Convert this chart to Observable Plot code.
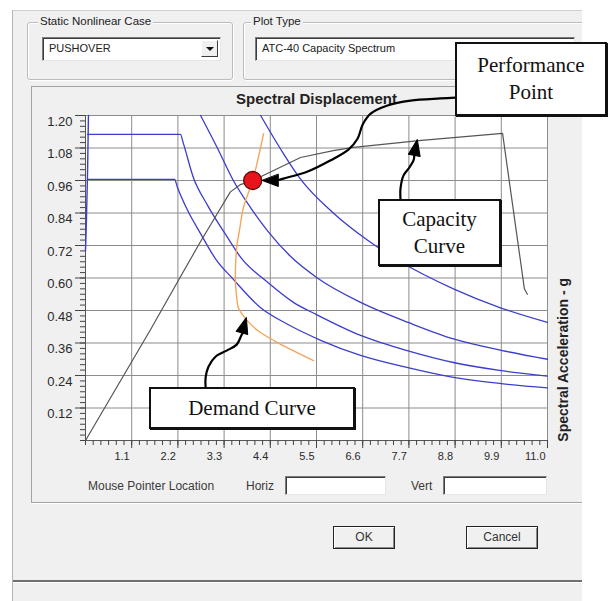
<!DOCTYPE html>
<html>
<head>
<meta charset="utf-8">
<script src="https://cdn.jsdelivr.net/npm/d3@7"></script>
<script src="https://cdn.jsdelivr.net/npm/@observablehq/plot@0.6"></script>
<style>
  html, body { margin: 0; padding: 0; background: #fff; }
  #page { position: relative; width: 614px; height: 601px; overflow: hidden; background: #fff;
          font-family: "Liberation Sans", Arial, sans-serif; font-size: 11px; color: #222; }
  #chrome { position: absolute; left: 0; top: 0; width: 582px; height: 601px; overflow: hidden; }
  .abs { position: absolute; box-sizing: border-box; }
  #dialog { left: 12px; top: 10px; width: 572px; height: 595px; background: #f0f0f0;
            border-left: 1px solid #b4b4b4; border-top: 1px solid #cfcfcf; }
  .group { border: 1px solid #bcbcbc; border-radius: 3px; box-shadow: inset 1px 1px 0 #fff, 1px 1px 0 #fff; }
  .glabel { background: #f0f0f0; padding: 0 2px; line-height: 13px; white-space: nowrap; font-size: 11.5px; }
  .combo { background: #fff; border: 1px solid; border-color: #7c7c7c #e6e6e6 #e6e6e6 #7c7c7c;
           box-shadow: inset 1px 1px 0 #3c3c3c; padding-left: 6px; line-height: 21px; white-space: nowrap; }
  .drop { position: absolute; right: 2px; top: 2px; width: 17px; height: 17px; background: #f0f0f0;
          border: 1px solid; border-color: #fff #3c3c3c #3c3c3c #fff; box-sizing: border-box; }
  .drop::after { content: ""; position: absolute; left: 4px; top: 6px; border-left: 4px solid transparent;
                 border-right: 4px solid transparent; border-top: 4px solid #111; }
  .panel { border-top: 1px solid #a3a3a3; border-left: 1px solid #a3a3a3;
           border-bottom: 1px solid #a3a3a3; box-shadow: 0 1px 0 #fff; }
  .field { background: #fff; border: 1px solid; border-color: #7c7c7c #e6e6e6 #e6e6e6 #7c7c7c;
           box-shadow: inset 1px 1px 0 #3c3c3c; }
  .txt { white-space: nowrap; line-height: 14px; color: #3a3a3a; font-size: 12px; }
  .btn { border: 1px solid #222; background: #f0f0f0; text-align: center; line-height: 21px; font-size: 12px;
         box-shadow: inset 1px 1px 0 #fff, inset -1px -1px 0 #8a8a8a; color: #333; }
  .note { background: #fff; border: 2px solid #111; box-shadow: 1px 1px 0 #111;
          font-family: "Liberation Serif", "Times New Roman", serif; font-size: 21px; color: #111;
          text-align: center; white-space: nowrap; }
  #plotHolder { position: absolute; left: 32px; top: 86px; }
  #plotHolder svg { overflow: visible; }
</style>
</head>
<body>
<div id="page">
  <div id="chrome">
    <div class="abs" id="dialog"></div>

    <div class="abs group" style="left:27px;top:22px;width:206px;height:58px;"></div>
    <div class="abs glabel" style="left:38px;top:15px;">Static Nonlinear Case</div>
    <div class="abs combo" style="left:42px;top:37px;width:179px;height:24px;">PUSHOVER<div class="drop"></div></div>

    <div class="abs group" style="left:243px;top:22px;width:360px;height:58px;"></div>
    <div class="abs glabel" style="left:251px;top:15px;">Plot Type</div>
    <div class="abs combo" style="left:255px;top:37px;width:320px;height:24px;">ATC-40 Capacity Spectrum</div>

    <div class="abs panel" style="left:31px;top:86px;width:560px;height:417px;"></div>

    <div class="abs txt" style="left:88px;top:479px;">Mouse Pointer Location</div>
    <div class="abs txt" style="left:246px;top:479px;">Horiz</div>
    <div class="abs field" style="left:285px;top:476px;width:101px;height:19px;"></div>
    <div class="abs txt" style="left:411px;top:479px;">Vert</div>
    <div class="abs field" style="left:443px;top:476px;width:104px;height:19px;"></div>

    <div class="abs btn" style="left:333px;top:526px;width:62px;height:23px;">OK</div>
    <div class="abs btn" style="left:466px;top:526px;width:72px;height:23px;">Cancel</div>

    <div class="abs" style="left:13px;top:580px;width:570px;height:2px;background:#707070;box-shadow:0 1px 0 #fff;"></div>
  </div>

  <div id="plotHolder"></div>

  <div class="abs note" style="left:455px;top:42px;width:152px;height:74px;line-height:27px;padding-top:8px;">Performance<br>Point</div>
  <div class="abs note" style="left:378px;top:199px;width:123px;height:67px;line-height:27px;padding-top:5px;">Capacity<br>Curve</div>
  <div class="abs note" style="left:149px;top:387px;width:206px;height:42px;line-height:38px;">Demand Curve</div>
</div>

<script>
// Axis ticks and labels
const sdTicks = [1.1, 2.2, 3.3, 4.4, 5.5, 6.6, 7.7, 8.8, 9.9, 11.0];
const sdTickLabels = ["1.1", "2.2", "3.3", "4.4", "5.5", "6.6", "7.7", "8.8", "9.9", "11.0"];
const saTicks = [0.12, 0.24, 0.36, 0.48, 0.60, 0.72, 0.84, 0.96, 1.08, 1.20];
const saTickLabels = ["0.12", "0.24", "0.36", "0.48", "0.60", "0.72", "0.84", "0.96", "1.08", "1.20"];

// Capacity spectrum (pushover curve in ADRS form)
const capacitySd = [0, 1.55, 2.19, 2.74, 3.14, 3.45, 3.69, 3.98, 4.33, 5.12, 5.9, 6.38, 8.0, 9.93, 10.45, 10.52];
const capacitySa = [0, 0.41, 0.585, 0.735, 0.838, 0.918, 0.945, 0.96, 0.986, 1.045, 1.07, 1.082, 1.108, 1.134, 0.56, 0.54];

// Demand spectra for the damping levels (blue)
const riseSd = [0.0, 0.02, 0.05, 0.07];
const riseSa = [0.70, 0.80, 1.0, 1.2];
const spectrum1Sd = [0.05, 2.26, 2.33, 2.57, 2.9, 3.38, 3.7, 4.33, 4.95, 5.5, 6.55, 7.7, 8.76, 9.9, 11.0];
const spectrum1Sa = [1.13, 1.13, 1.097, 0.97, 0.87, 0.75, 0.675, 0.585, 0.51, 0.465, 0.388, 0.33, 0.288, 0.258, 0.238];
const spectrum2Sd = [0.05, 2.12, 2.19, 2.43, 2.74, 3.1, 3.52, 4.17, 4.8, 5.6, 6.55, 7.7, 8.76, 9.9, 11.0];
const spectrum2Sa = [0.964, 0.964, 0.934, 0.85, 0.764, 0.67, 0.595, 0.49, 0.43, 0.37, 0.314, 0.268, 0.233, 0.21, 0.194];
const spectrum3Sd = [2.74, 3.14, 3.52, 3.93, 4.33, 4.88, 5.52, 6.55, 7.7, 8.76, 9.9, 11.0];
const spectrum3Sa = [1.2, 1.08, 0.96, 0.86, 0.775, 0.68, 0.6, 0.51, 0.435, 0.375, 0.333, 0.30];
const spectrum4Sd = [4.17, 4.71, 5.12, 5.9, 6.71, 7.5, 8.76, 9.88, 11.0];
const spectrum4Sa = [1.2, 1.06, 0.965, 0.84, 0.74, 0.66, 0.56, 0.49, 0.436];

// Single demand curve (orange)
const demandSd = [4.24, 4.1, 3.98, 3.76, 3.66, 3.6, 3.57, 3.6, 3.64, 3.81, 4.1, 4.71, 5.43];
const demandSa = [1.133, 1.034, 0.96, 0.86, 0.77, 0.713, 0.59, 0.53, 0.49, 0.45, 0.406, 0.35, 0.295];

// Performance point
const perfSd = [3.98];
const perfSa = [0.96];

// Leader lines from the callout boxes
const perfLeaderSd = [8.81, 8.45, 7.74, 7.19, 6.79, 6.60, 6.48, 6.26, 5.83, 5.29, 4.71, 4.55];
const perfLeaderSa = [1.266, 1.263, 1.255, 1.237, 1.207, 1.167, 1.115, 1.074, 1.034, 0.993, 0.967, 0.96];
const capLeaderSd = [7.5, 7.5, 7.57, 7.71, 7.81, 7.83];
const capLeaderSa = [0.89, 0.93, 0.978, 1.008, 1.034, 1.056];
const demLeaderSd = [2.86, 2.86, 2.93, 3.10, 3.36, 3.60, 3.71, 3.76];
const demLeaderSa = [0.196, 0.233, 0.273, 0.310, 0.332, 0.354, 0.388, 0.402];
const headSd = [4.21, 7.9, 3.83];
const headSa = [0.96, 1.111, 0.454];
const headAngle = [-90, 11, 16];

const pairs = (xs, ys) => xs.map((x, i) => [x, ys[i]]);
const xMinor = d3.range(0, 61).map(i => i * 1.1 / 6);
const yMinor = d3.range(0, 61).map(i => i * 0.02);

const blue = "#3d3dcc";
const grid = "#8c8c8c";
const lineXY = {x: d => d[0], y: d => d[1]};
const spectrumStyle = {...lineXY, curve: "monotone-x", stroke: blue, strokeWidth: 1.3};

// filled arrowhead drawn from its base (0,0) to its tip (0,-l)
const arrowHead = {
  draw(context, l, r) {
    context.moveTo(0, -l);
    context.lineTo(-r, 0);
    context.lineTo(r, 0);
    context.closePath();
  }
};

const chart = Plot.plot({
  width: 548,
  height: 380,
  marginLeft: 53,
  marginRight: 33,
  marginTop: 29,
  marginBottom: 26,
  x: {domain: [0, 11], axis: null},
  y: {domain: [0, 1.2], axis: null},
  style: {background: "transparent", color: "#333", fontFamily: "'Liberation Sans', Arial, sans-serif", overflow: "visible"},
  marks: [
    Plot.frame({fill: "#fff", stroke: null}),
    Plot.gridX(sdTicks, {stroke: grid, strokeOpacity: 1}),
    Plot.gridY(saTicks, {stroke: grid, strokeOpacity: 1}),
    Plot.frame({stroke: grid}),
    Plot.ruleX([0], {stroke: "#555"}),
    Plot.ruleY([0], {stroke: "#555"}),
    Plot.axisX(xMinor, {anchor: "bottom", tickSize: 5, tickFormat: () => "", label: null, stroke: "#444"}),
    Plot.axisX(sdTicks, {anchor: "bottom", tickSize: 8, tickFormat: () => "", label: null, stroke: "#444"}),
    Plot.axisY(yMinor, {anchor: "left", tickSize: 5, tickFormat: () => "", label: null, stroke: "#444"}),
    Plot.axisY(saTicks, {anchor: "left", tickSize: 10, tickFormat: () => "", label: null, stroke: "#444"}),
    Plot.text(sdTicks, {x: d => d, frameAnchor: "bottom", lineAnchor: "middle", dy: 16, dx: -2, textAnchor: "end",
      text: (d, i) => sdTickLabels[i], fontSize: 11, fill: "#2a2a2a"}),
    Plot.text(saTicks, {y: d => d, frameAnchor: "left", dx: -13, dy: 6, textAnchor: "end",
      text: (d, i) => saTickLabels[i], fontSize: 13, fill: "#2a2a2a"}),
    Plot.text(["Spectral Displacement"], {frameAnchor: "top", lineAnchor: "middle", dy: -16, fontSize: 15, fontWeight: "bold", fill: "#222"}),
    Plot.text(["Spectral Acceleration - g"], {frameAnchor: "right", dx: 16, rotate: -90, fontSize: 14, fontWeight: "bold", fill: "#222"}),

    // demand spectra
    Plot.line(pairs(riseSd, riseSa), {...lineXY, stroke: blue, strokeWidth: 1.4}),
    Plot.line(pairs(spectrum1Sd, spectrum1Sa), spectrumStyle),
    Plot.line(pairs(spectrum2Sd, spectrum2Sa), spectrumStyle),
    Plot.line(pairs(spectrum3Sd, spectrum3Sa), spectrumStyle),
    Plot.line(pairs(spectrum4Sd, spectrum4Sa), spectrumStyle),

    // demand curve and capacity curve
    Plot.line(pairs(demandSd, demandSa), {...lineXY, curve: "catmull-rom", stroke: "#f4a65e", strokeWidth: 1.4}),
    Plot.line(pairs(capacitySd, capacitySa), {...lineXY, stroke: "#555", strokeWidth: 1.2}),

    // performance point
    Plot.dot(pairs(perfSd, perfSa), {...lineXY, r: 9, fill: "#e8141c", stroke: "#5a0808", strokeWidth: 1.3}),

    // callout leaders
    Plot.line(pairs(perfLeaderSd, perfLeaderSa), {...lineXY, curve: "catmull-rom", stroke: "#000", strokeWidth: 2.2}),
    Plot.line(pairs(capLeaderSd, capLeaderSa), {...lineXY, curve: "catmull-rom", stroke: "#000", strokeWidth: 2.2}),
    Plot.line(pairs(demLeaderSd, demLeaderSa), {...lineXY, curve: "catmull-rom", stroke: "#000", strokeWidth: 2.2}),
    Plot.vector(d3.range(headSd.length), {x: i => headSd[i], y: i => headSa[i], rotate: i => headAngle[i],
      length: 16, r: 6, anchor: "end", shape: arrowHead, fill: "#000", stroke: "#000", strokeWidth: 1})
  ]
});

document.getElementById("plotHolder").appendChild(chart);
</script>
</body>
</html>
